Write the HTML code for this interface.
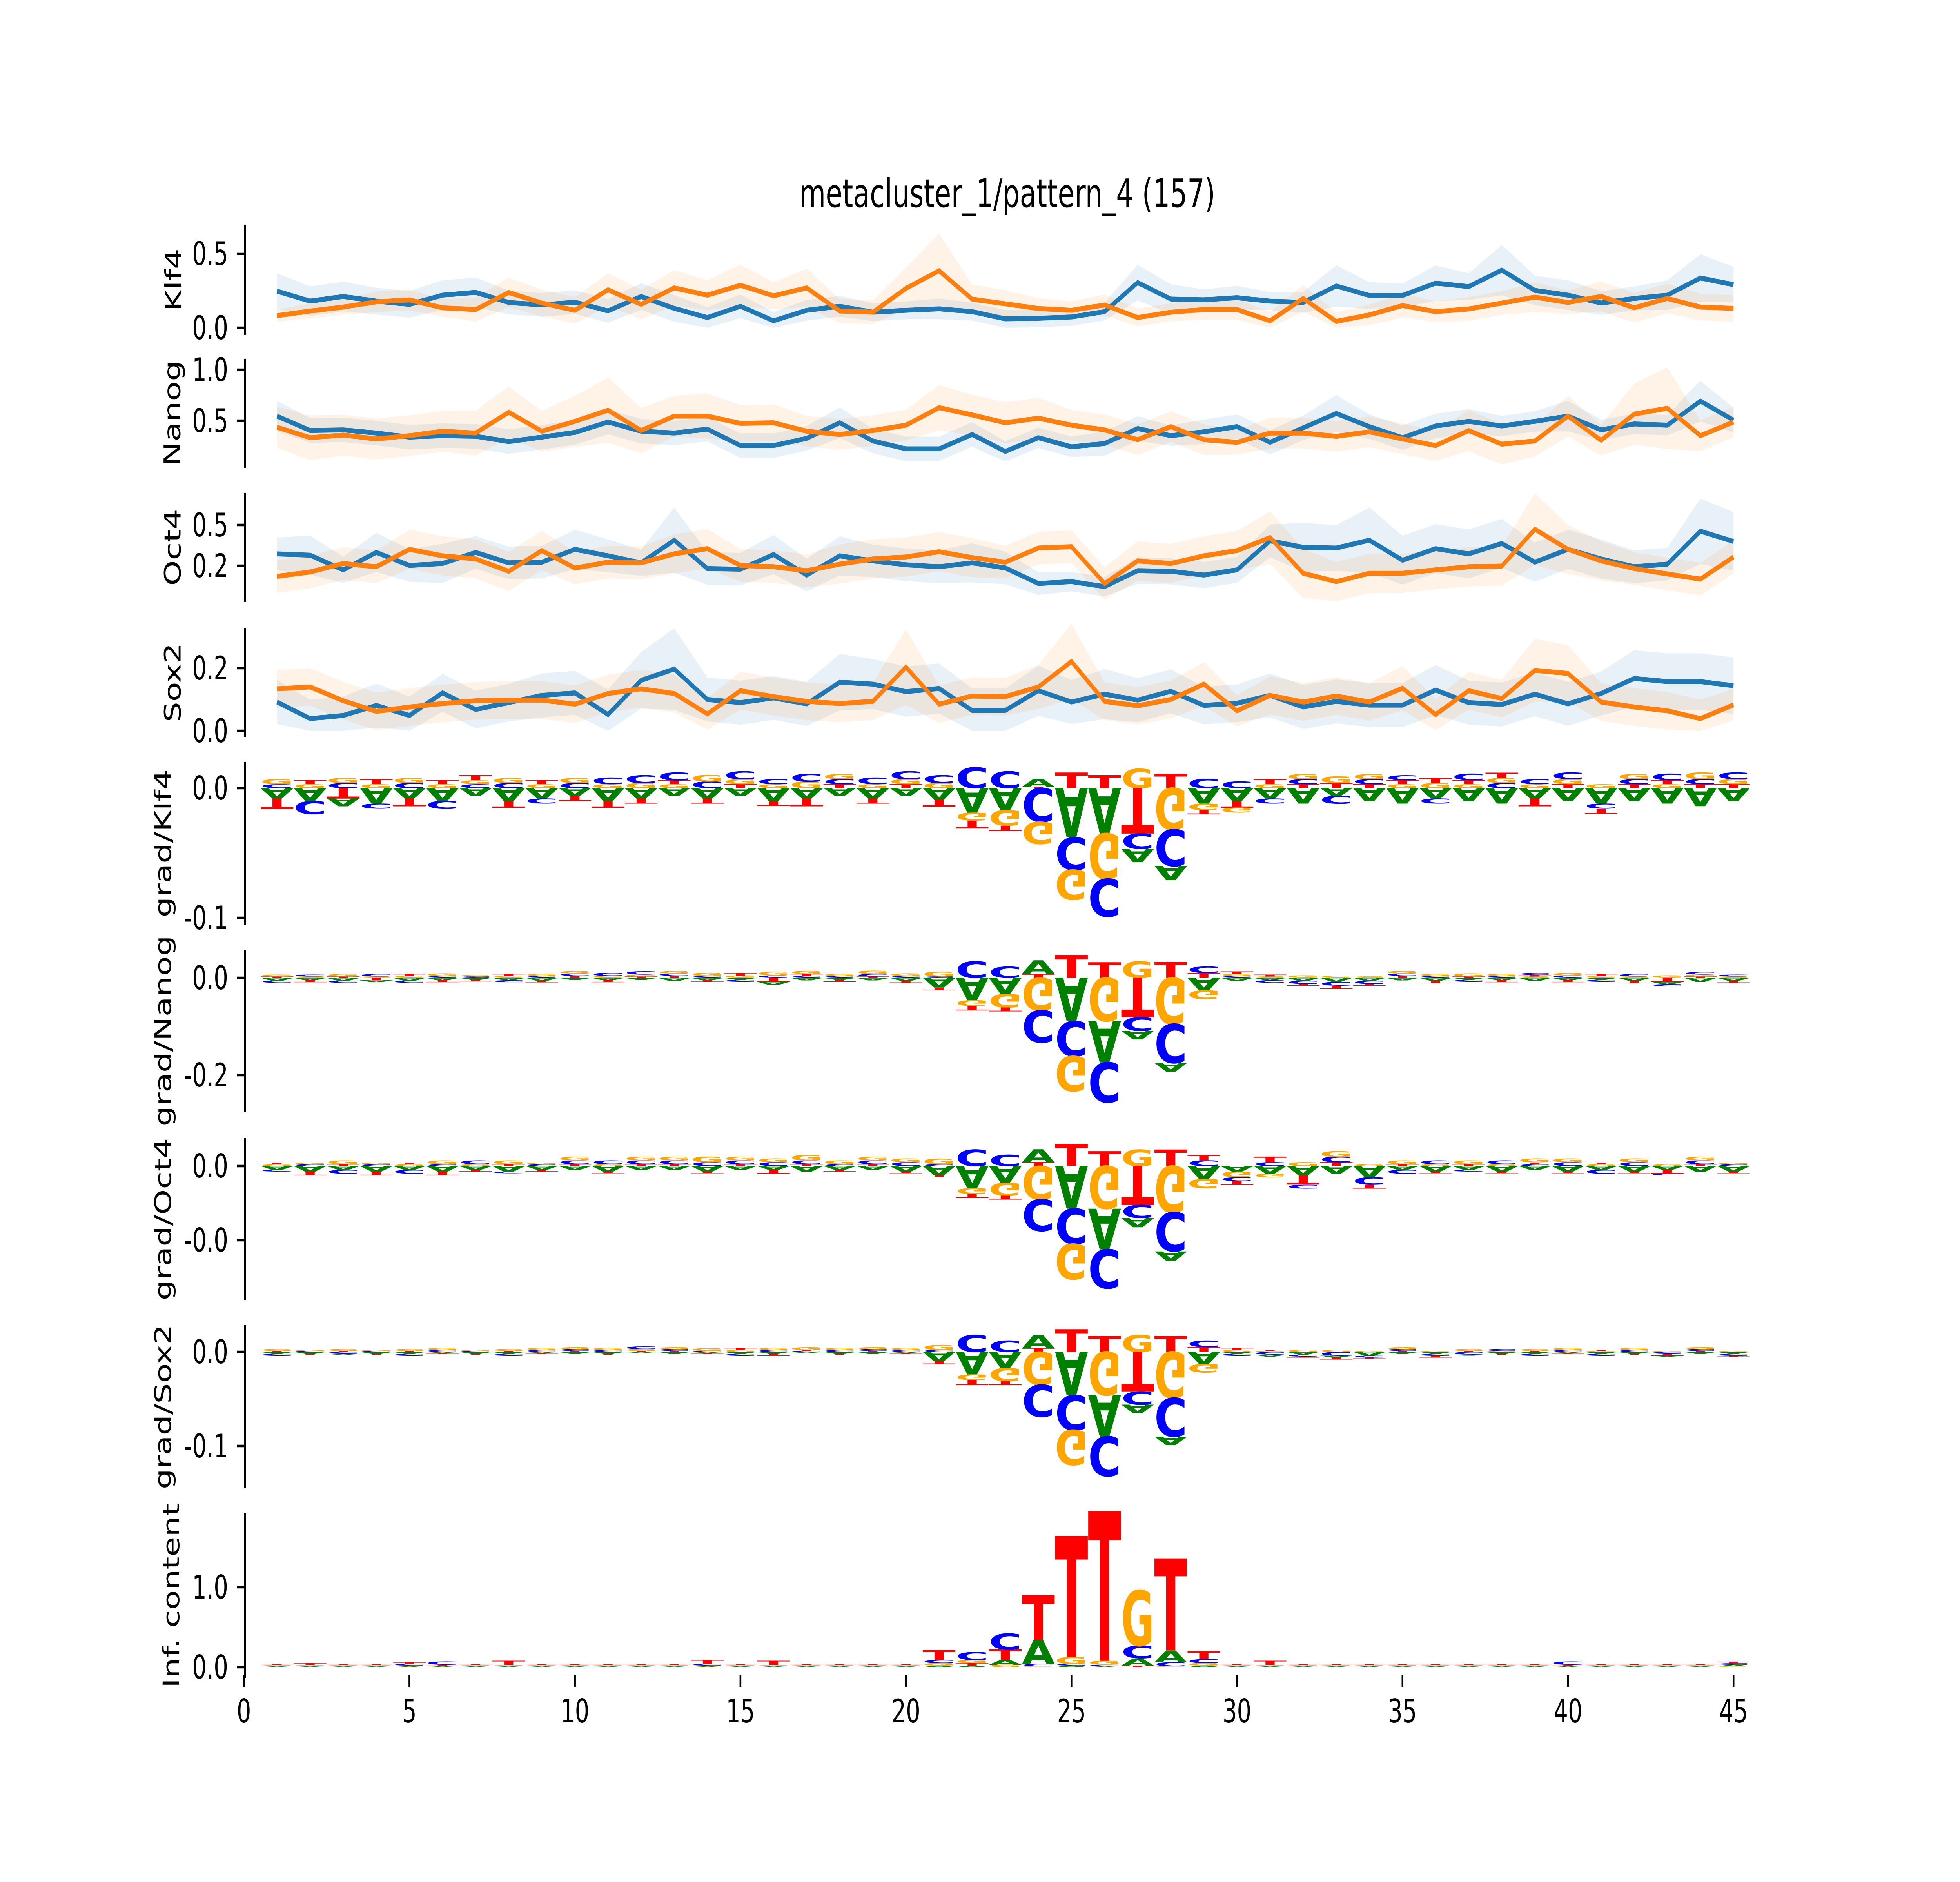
<!DOCTYPE html>
<html><head><meta charset="utf-8"><title>metacluster_1/pattern_4</title>
<style>html,body{margin:0;padding:0;background:#fff;width:100%;height:100%;overflow:hidden;}svg{display:block;width:100vw;height:100vh;}</style></head>
<body>
<svg id="fig" xmlns="http://www.w3.org/2000/svg" viewBox="0 0 7200 4800" preserveAspectRatio="none" font-family="'DejaVu Sans','Liberation Sans',sans-serif">
<rect x="0" y="0" width="7200" height="4800" fill="#fff"/>
<text x="3700" y="528" font-size="100" text-anchor="middle">metacluster_1/pattern_4 (157)</text>
</svg>
<script>
// ---------- line panel data (positions 1..45) ----------
const positions = [1,2,3,4,5,6,7,8,9,10,11,12,13,14,15,16,17,18,19,20,21,22,23,24,25,26,27,28,29,30,31,32,33,34,35,36,37,38,39,40,41,42,43,44,45];
const xTicks = [0,5,10,15,20,25,30,35,40,45];
const xTickLabels = ['0','5','10','15','20','25','30','35','40','45'];

const klf4Blue = [.247,.180,.211,.180,.158,.220,.239,.171,.154,.173,.114,.211,.131,.069,.145,.047,.118,.145,.105,.118,.128,.109,.060,.064,.073,.109,.305,.194,.189,.203,.180,.171,.282,.218,.218,.301,.278,.389,.252,.220,.167,.198,.220,.336,.291];
const klf4Orange = [.082,.113,.140,.175,.188,.135,.123,.238,.167,.118,.256,.158,.269,.220,.287,.216,.269,.113,.105,.266,.385,.193,.162,.130,.118,.154,.069,.105,.123,.123,.047,.198,.043,.087,.150,.109,.127,.167,.207,.171,.212,.135,.198,.140,.131];
const klf4BlueErr = [.12,.1,.1,.09,.09,.1,.1,.08,.08,.08,.08,.09,.09,.07,.08,.06,.07,.07,.06,.06,.07,.06,.06,.06,.06,.06,.12,.1,.07,.08,.06,.07,.14,.09,.08,.12,.09,.17,.1,.1,.08,.08,.1,.16,.12];
const klf4OrangeErr = [.04,.05,.05,.07,.07,.06,.08,.1,.09,.09,.11,.1,.12,.1,.14,.09,.13,.08,.08,.14,.25,.1,.09,.07,.06,.07,.06,.06,.07,.07,.06,.09,.06,.07,.08,.07,.08,.08,.1,.08,.1,.1,.1,.09,.09];

const nanogBlue = [.545,.404,.41,.379,.339,.353,.347,.295,.339,.385,.487,.397,.379,.417,.256,.256,.327,.48,.301,.224,.224,.365,.199,.333,.244,.276,.423,.353,.391,.442,.288,.430,.571,.442,.333,.448,.494,.448,.494,.545,.41,.468,.456,.692,.506];
const nanogOrange = [.436,.334,.359,.321,.353,.397,.379,.583,.397,.494,.603,.404,.545,.545,.474,.48,.397,.365,.404,.456,.628,.557,.48,.525,.456,.41,.314,.442,.314,.288,.379,.379,.347,.391,.321,.256,.404,.270,.301,.545,.308,.565,.622,.353,.487];
const nanogBlueErr = [.15,.12,.12,.12,.12,.12,.12,.12,.12,.12,.12,.12,.12,.12,.12,.12,.12,.15,.12,.12,.12,.12,.1,.1,.1,.12,.12,.1,.12,.12,.12,.12,.18,.12,.12,.12,.12,.1,.1,.15,.1,.1,.1,.2,.12];
const nanogOrangeErr = [.2,.22,.2,.2,.2,.2,.22,.25,.2,.25,.32,.22,.2,.22,.18,.18,.15,.15,.15,.15,.22,.2,.2,.2,.15,.15,.15,.15,.15,.12,.15,.15,.15,.15,.15,.15,.2,.2,.15,.2,.15,.3,.4,.15,.15];

const oct4Blue = [.323,.315,.225,.332,.252,.264,.332,.268,.272,.351,.311,.268,.407,.233,.229,.319,.193,.311,.280,.256,.244,.268,.237,.141,.153,.122,.220,.216,.193,.225,.403,.363,.359,.407,.284,.355,.323,.387,.272,.351,.292,.244,.260,.462,.399];
const oct4Orange = [.185,.212,.264,.244,.351,.311,.292,.216,.343,.236,.272,.268,.323,.355,.252,.244,.220,.260,.292,.304,.336,.300,.272,.359,.367,.141,.280,.264,.311,.343,.423,.204,.153,.204,.204,.225,.244,.248,.474,.351,.280,.233,.200,.168,.304];
const oct4BlueErr = [.1,.12,.08,.12,.1,.12,.1,.1,.1,.12,.1,.08,.2,.1,.1,.12,.1,.12,.1,.1,.1,.12,.1,.07,.06,.06,.08,.08,.08,.08,.1,.15,.14,.2,.15,.15,.15,.15,.12,.12,.12,.1,.1,.2,.18];
const oct4OrangeErr = [.1,.1,.1,.1,.12,.12,.12,.12,.12,.1,.1,.1,.12,.12,.1,.1,.1,.12,.12,.12,.12,.12,.1,.1,.1,.1,.12,.12,.12,.12,.16,.15,.12,.12,.12,.12,.12,.12,.22,.15,.12,.1,.1,.1,.1];

const sox2Blue = [.092,.039,.049,.081,.049,.121,.068,.090,.113,.121,.052,.161,.197,.100,.090,.105,.086,.155,.149,.125,.135,.065,.065,.128,.092,.117,.098,.126,.081,.088,.113,.076,.094,.082,.082,.130,.090,.084,.117,.086,.119,.167,.157,.157,.144];
const sox2Orange = [.134,.140,.096,.062,.076,.087,.096,.098,.098,.085,.119,.134,.119,.054,.128,.109,.094,.087,.094,.203,.085,.111,.109,.140,.221,.094,.080,.100,.149,.064,.113,.092,.111,.092,.136,.052,.128,.103,.193,.183,.092,.076,.064,.039,.083];
const sox2BlueErr = [.07,.06,.06,.07,.06,.06,.06,.06,.07,.07,.08,.09,.13,.07,.07,.07,.07,.09,.08,.08,.08,.07,.07,.08,.07,.08,.07,.07,.06,.06,.07,.07,.07,.07,.07,.08,.07,.07,.07,.07,.07,.09,.09,.09,.09];
const sox2OrangeErr = [.06,.06,.06,.06,.06,.06,.06,.06,.06,.06,.06,.06,.06,.05,.06,.06,.06,.06,.06,.12,.06,.06,.06,.07,.12,.06,.06,.06,.07,.05,.06,.06,.06,.06,.07,.05,.06,.06,.1,.09,.06,.06,.06,.06,.05];

// ---------- logo data (positions 1..45; per base) ----------
const gKlf4A = [-.008,-.01,-.006,-.012,-.008,-.01,-.006,-.01,-.008,-.006,-.01,-.008,-.006,-.008,-.006,-.01,-.008,-.006,-.008,-.006,-.009,-.019,-.017,.006,-.038,-.035,-.01,-.011,-.012,-.01,-.008,-.012,-.006,-.01,-.012,-.008,-.01,-.012,-.008,-.01,-.012,-.01,-.012,-.014,-.01];
const gKlf4C = [.003,-.01,.004,-.004,.004,-.006,.003,.004,-.004,.004,.005,.006,.006,.005,.006,.004,.006,.004,.005,.006,.006,.016,.013,-.026,-.025,-.029,-.012,-.028,.007,.005,-.004,.004,-.006,.004,.004,-.004,.005,.004,.004,.005,-.004,.004,.005,.004,.005];
const gKlf4G = [.004,.003,.004,.003,.004,.003,.003,.004,.003,.004,.003,.004,.003,.005,.004,.003,.005,.004,.003,.004,.004,-.006,-.012,-.017,-.023,-.035,.015,-.032,-.005,-.004,.003,.004,.005,.004,.003,.004,.003,.004,.003,.004,.003,.004,.003,.005,.004];
const gKlf4T = [-.008,.003,-.008,.004,-.006,.003,.004,-.005,.003,-.004,-.005,-.004,.003,-.004,.003,-.004,-.006,.003,-.004,.003,-.005,-.006,-.004,.001,.012,.010,-.035,.011,-.003,-.005,.004,.003,.004,.003,.003,.004,.003,.004,-.006,.003,-.004,.003,.003,.003,.003];

const gNanogA = [-.006,-.005,-.006,-.004,-.006,-.005,-.004,-.005,-.006,-.004,-.005,-.004,-.006,-.005,-.004,-.006,-.005,-.004,-.005,-.006,-.02,-.046,-.033,.028,-.089,-.085,-.018,-.018,-.026,-.006,-.005,-.006,-.008,-.006,-.005,-.006,-.004,-.005,-.006,-.005,-.004,-.006,-.005,-.008,-.006];
const gNanogC = [-.004,.004,-.004,.005,-.004,.004,.003,-.004,.004,.005,.006,.007,.005,.004,-.004,.005,.004,.004,.005,.004,.003,.034,.023,-.066,-.072,-.082,-.028,-.08,.013,.004,-.005,-.006,-.008,-.006,.005,.004,-.004,.004,.004,.005,-.004,.005,-.004,.005,.004];
const gNanogG = [.004,.003,.005,.003,.004,.005,.003,.004,.004,.005,.004,.004,.005,.006,.005,.008,.006,.004,.007,.005,.01,-.012,-.028,-.067,-.072,-.089,.034,-.095,-.018,.004,.003,.005,.004,.003,.005,.004,.006,.004,.003,.005,.004,.003,.005,.004,.003];
const gNanogT = [.003,-.004,.003,-.005,.004,-.004,-.003,.004,-.003,.004,-.004,.003,.004,-.003,.005,-.008,.004,-.004,.003,-.004,-.005,-.009,-.008,.008,.047,.032,-.081,.033,.01,.005,.004,-.004,-.006,-.004,.004,-.005,.003,-.004,.003,-.004,.004,-.005,-.008,.003,-.004];

const gOct4A = [-.002,-.003,-.002,-.003,-.002,-.003,-.002,-.003,-.002,-.002,-.003,-.002,-.002,-.003,-.002,-.002,-.003,-.002,-.002,-.003,-.005,-.012,-.009,.007,-.023,-.022,-.005,-.005,-.007,-.003,-.004,-.005,-.004,-.006,-.002,-.003,-.002,-.003,-.002,-.003,-.002,-.003,-.002,-.003,-.003];
const gOct4C = [-.001,.001,-.002,.001,-.002,.001,.002,-.001,.001,.002,.002,.002,.002,.002,.002,.002,.002,.001,.002,.002,.001,.009,.006,-.017,-.019,-.021,-.007,-.021,.003,-.002,.002,-.002,.003,-.004,-.002,.002,-.001,.002,.001,.002,-.002,.002,-.001,.002,.001];
const gOct4G = [.001,.001,.002,.001,.001,.002,.001,.002,.001,.002,.001,.002,.002,.003,.002,.002,.003,.002,.002,.002,.003,-.003,-.007,-.018,-.019,-.023,.009,-.025,-.005,-.003,-.002,.002,.003,.001,.002,.001,.002,.001,.002,.002,.001,.002,.001,.002,.001];
const gOct4T = [.001,-.002,.001,-.002,.001,-.002,-.001,.001,-.001,.001,-.001,.001,.001,-.001,.001,-.002,.001,-.001,.001,-.001,-.001,-.002,-.002,.002,.012,.008,-.021,.009,.003,-.002,.003,-.005,.002,-.002,.001,-.001,.001,-.001,.001,-.001,.001,-.001,-.002,.001,-.001];

const gSox2A = [-.002,-.002,-.001,-.002,-.002,-.001,-.002,-.002,-.001,-.002,-.002,-.001,-.002,-.001,-.002,-.002,-.001,-.002,-.002,-.001,-.01,-.024,-.017,.014,-.046,-.044,-.009,-.009,-.013,-.002,-.002,-.003,-.002,-.004,-.002,-.002,-.001,-.002,-.002,-.001,-.002,-.002,-.001,-.002,-.002];
const gSox2C = [-.002,.001,-.002,.001,-.002,.002,.001,-.002,.002,.002,.002,.003,.002,.001,-.002,.002,.001,.002,.002,.002,.002,.018,.012,-.034,-.037,-.042,-.014,-.041,.007,-.002,-.003,-.002,-.004,-.002,.002,-.002,-.003,.002,-.002,.002,-.002,.002,-.002,.002,-.002];
const gSox2G = [.002,.001,.002,.001,.002,.002,.001,.002,.002,.002,.002,.002,.002,.003,.002,.002,.003,.002,.002,.002,.005,-.006,-.014,-.035,-.037,-.046,.018,-.049,-.009,.002,.001,.002,.002,.001,.002,.001,.002,.001,.002,.002,.001,.002,.001,.002,.001];
const gSox2T = [.001,-.001,.001,-.001,.001,-.001,-.001,.001,-.001,.001,-.001,.001,.001,-.001,.002,-.002,.001,-.001,.001,-.001,-.003,-.005,-.004,.004,.024,.017,-.042,.017,.005,.002,.001,-.001,-.002,-.001,.001,-.002,.001,-.001,.001,-.001,.001,-.001,-.002,.001,-.001];

const icA = [.01,.01,.01,.01,.01,.01,.01,.01,.01,.01,.01,.01,.01,.01,.01,.01,.01,.01,.01,.01,.02,.02,.06,.3,.02,.01,.09,.15,.02,.01,.01,.01,.01,.01,.01,.01,.01,.01,.01,.01,.01,.01,.01,.01,.02];
const icC = [.01,.01,.01,.01,.02,.04,.01,.01,.01,.01,.01,.01,.01,.02,.01,.01,.01,.01,.01,.01,.04,.1,.2,.03,.02,.02,.16,.05,.05,.01,.01,.01,.01,.01,.01,.01,.01,.01,.01,.04,.01,.01,.01,.01,.02];
const icG = [.01,.01,.01,.01,.01,.01,.01,.01,.01,.01,.01,.01,.01,.01,.01,.01,.01,.01,.01,.01,.03,.04,.03,.01,.09,.05,.69,.01,.03,.01,.01,.01,.01,.01,.01,.01,.01,.01,.01,.01,.01,.01,.01,.01,.01];
const icT = [.01,.02,.01,.01,.02,.01,.01,.05,.01,.01,.01,.01,.01,.05,.01,.05,.01,.01,.01,.01,.12,.03,.13,.56,1.51,1.87,.02,1.15,.1,.01,.05,.01,.01,.01,.01,.01,.01,.01,.01,.01,.01,.01,.01,.01,.02];

// ---------- layout ----------
const NS = 'http://www.w3.org/2000/svg';
const svg = document.getElementById('fig');
const X0 = 896, XU = 121.6;
function xs(v){ return X0 + XU*v; }
function mk(tag, attrs, parent){
  const e = document.createElementNS(NS, tag);
  for (const k in attrs) e.setAttribute(k, attrs[k]);
  (parent||svg).appendChild(e);
  return e;
}
const BLUE='#1f77b4', ORANGE='#ff7f0e';
const COLORS = {A:'#008000', C:'#0000ff', G:'#ffa500', T:'#ff0000'};

function axisFrame(p, slug){
  const g = mk('g', {});
  
  
  const sp = mk('line', {x1:900, x2:900, y1:p.top, y2:p.bot, stroke:'#000', 'stroke-width':6.5}, g);
  
  
  p.ticks.forEach((t,i)=>{
    const y = p.y(t);
    const tk = mk('line', {x1:871, x2:900, y1:y, y2:y, stroke:'#000', 'stroke-width':6.5}, g);
    
    
    const tl = mk('text', {x:838, y:y+29, 'font-size':83, 'text-anchor':'end', fill:'#000'}, g);
    tl.textContent = p.tl[i];
    
    
  });
  const cy = (p.top + p.bot)/2;
  const lab = mk('text', {x:0, y:0, 'font-size':83, 'text-anchor':'middle', fill:'#000', transform:`translate(${p.lx},${cy}) rotate(-90)`}, g);
  lab.textContent = p.label;
  
  
}

// line panels
const linePanels = [
  {label:'Klf4', slug:'klf4', top:573, bot:854, y:v=>836-v*378, ticks:[0,0.5], tl:['0.0','0.5'], lx:667, b:klf4Blue, o:klf4Orange, be:klf4BlueErr, oe:klf4OrangeErr},
  {label:'Nanog', slug:'nanog', top:915, bot:1193, y:v=>1073-(v-0.5)*260, ticks:[0.5,1.0], tl:['0.5','1.0'], lx:662, b:nanogBlue, o:nanogOrange, be:nanogBlueErr, oe:nanogOrangeErr},
  {label:'Oct4', slug:'oct4', top:1257, bot:1535, y:v=>1339-(v-0.5)*416, ticks:[0.25,0.5], tl:['0.2','0.5'], lx:663, b:oct4Blue, o:oct4Orange, be:oct4BlueErr, oe:oct4OrangeErr},
  {label:'Sox2', slug:'sox2', top:1602, bot:1880, y:v=>1864-v*800, ticks:[0,0.2], tl:['0.0','0.2'], lx:663, b:sox2Blue, o:sox2Orange, be:sox2BlueErr, oe:sox2OrangeErr}
];
function band(p, vals, errs, col, name){
  const up = vals.map((v,i)=>`${xs(positions[i]).toFixed(1)},${p.y(v+errs[i]).toFixed(1)}`);
  const dn = vals.map((v,i)=>`${xs(positions[i]).toFixed(1)},${p.y(Math.max(v-errs[i],0)).toFixed(1)}`).reverse();
  const e = mk('polygon', {points: up.concat(dn).join(' '), fill:col, 'fill-opacity':0.1, stroke:'none'});
  
  
}
function line(p, vals, col, name){
  const pts = vals.map((v,i)=>`${xs(positions[i]).toFixed(1)},${p.y(v).toFixed(1)}`).join(' ');
  const e = mk('polyline', {points:pts, fill:'none', stroke:col, 'stroke-width':12.5, 'stroke-linejoin':'miter', 'stroke-miterlimit':10});
  
  
}
linePanels.forEach(p=>{
  axisFrame(p, p.slug);
  band(p, p.b, p.be, BLUE, p.slug + '-blue-band');
  band(p, p.o, p.oe, ORANGE, p.slug + '-orange-band');
  line(p, p.b, BLUE, p.slug + '-blue-line');
  line(p, p.o, ORANGE, p.slug + '-orange-line');
});

// logo panels
const logoPanels = [
  {label:'grad/Klf4', slug:'grad-klf4', top:1943, bot:2359, y:v=>2010-v*3310, k:3310, ticks:[-0.1,0], tl:['-0.1','0.0'], lx:628, A:gKlf4A, C:gKlf4C, G:gKlf4G, T:gKlf4T},
  {label:'grad/Nanog', slug:'grad-nanog', top:2423, bot:2836, y:v=>2494-v*1240, k:1240, ticks:[-0.2,0], tl:['-0.2','0.0'], lx:628, A:gNanogA, C:gNanogC, G:gNanogG, T:gNanogT},
  {label:'grad/Oct4', slug:'grad-oct4', top:2903, bot:3316, y:v=>2974-v*4725, k:4725, ticks:[-0.04,0], tl:['-0.0','0.0'], lx:628, A:gOct4A, C:gOct4C, G:gOct4G, T:gOct4T},
  {label:'grad/Sox2', slug:'grad-sox2', top:3380, bot:3796, y:v=>3448-v*2400, k:2400, ticks:[-0.1,0], tl:['-0.1','0.0'], lx:628, A:gSox2A, C:gSox2C, G:gSox2G, T:gSox2T},
  {label:'Inf. content', slug:'info-content', top:3859, bot:4280, y:v=>4252-v*204, k:204, ticks:[0,1.0], tl:['0.0','1.0'], lx:658, A:icA, C:icC, G:icG, T:icT}
];
function letter(g, ch, xl, yref, w, h, flip){
  const t = mk('text', {x:0, y:0, 'font-size':100, 'font-weight':'bold', textLength:100, lengthAdjust:'spacingAndGlyphs', fill:COLORS[ch],
    transform:`translate(${xl.toFixed(1)},${yref.toFixed(1)}) scale(${(w/100).toFixed(4)},${((flip?-1:1)*h/72.9).toFixed(4)})`}, g);
  t.textContent = ch;
  
  
}
logoPanels.forEach(p=>{
  axisFrame(p, p.slug);
  const g = mk('g', {});
  
  
  const y0 = p.y(0);
  positions.forEach((pos, i)=>{
    const xl = xs(pos) - XU/2, w = XU;
    const items = ['A','C','G','T'].map(b=>({b:b, v:p[b][i]}));
    const pos_ = items.filter(d=>d.v>0).sort((a,b)=>a.v-b.v);
    const neg_ = items.filter(d=>d.v<0).sort((a,b)=>a.v-b.v);
    let cy = y0;
    pos_.forEach(d=>{ const h = d.v*p.k; if (h>0.5) letter(g, d.b, xl, cy, w, h, false); cy -= h; });
    cy = y0;
    neg_.forEach(d=>{ const h = -d.v*p.k; if (h>0.5) letter(g, d.b, xl, cy, w, h, true); cy += h; });
  });
});

// x axis
const xg = mk('g', {});


xTicks.forEach((t,i)=>{
  const x = xs(t);
  const tk = mk('line', {x1:x, x2:x, y1:4272, y2:4302, stroke:'#000', 'stroke-width':6.5}, xg);
  
  
  const tl = mk('text', {x:x, y:4393, 'font-size':83, 'text-anchor':'middle', fill:'#000'}, xg);
  tl.textContent = xTickLabels[i];
  
  
});
</script>
</body></html>
